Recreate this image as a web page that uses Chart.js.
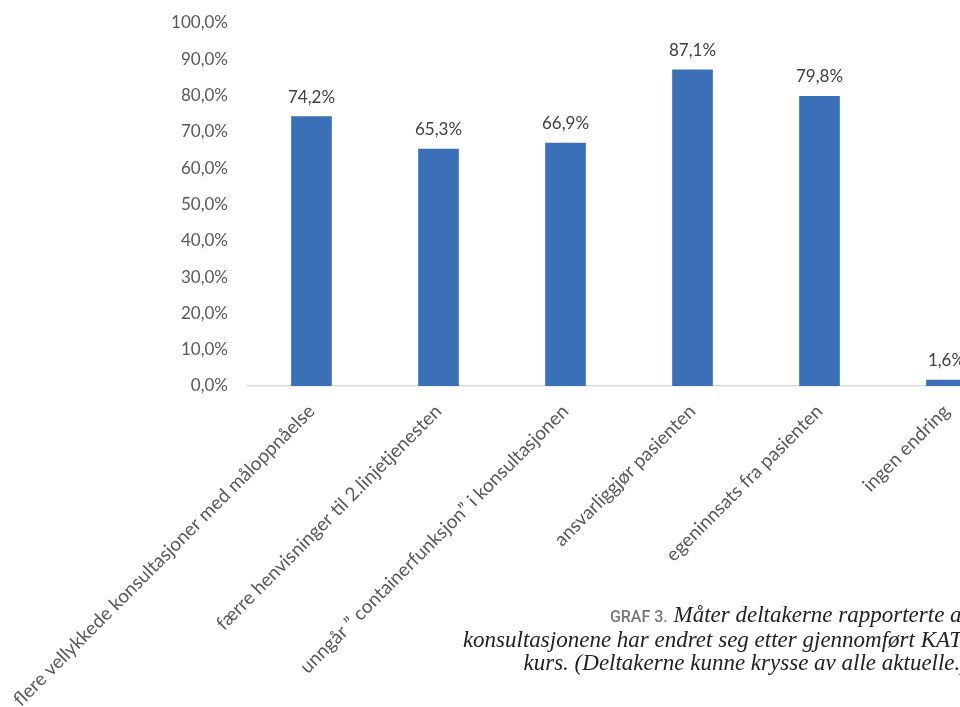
<!DOCTYPE html>
<html>
<head>
<meta charset="utf-8">
<script src="https://cdn.jsdelivr.net/npm/chart.js@4/dist/chart.umd.min.js"></script>
<style>
  html, body { margin: 0; padding: 0; background: #fff; overflow: hidden; }
  #wrap { position: relative; width: 1040px; height: 707px; }
  #caption {
    position: absolute; left: 368px; width: 600px; top: 603px;
    text-align: right; font-family: "Liberation Serif", serif; font-style: italic;
    font-size: 23px; line-height: 23px; color: #222;
  }
  #caption .tag { font-family: Roboto, sans-serif; font-style: normal; font-weight: 500; font-size: 16px; color: #777; }
</style>
</head>
<body>
<div id="wrap">
  <canvas id="chart" width="1040" height="707"></canvas>
  <div id="caption"><span class="tag">GRAF 3.</span> Måter deltakerne rapporterte at<br>konsultasjonene har endret seg etter gjennomført KAT-<br>kurs. (Deltakerne kunne krysse av alle aktuelle.)</div>
</div>
<script>
const categories = [
  'flere vellykkede konsultasjoner med måloppnåelse',
  'færre henvisninger til 2.linjetjenesten',
  'unngår ” containerfunksjon” i konsultasjonen',
  'ansvarliggjør pasienten',
  'egeninnsats fra pasienten',
  'ingen endring'
];
const values = [74.2, 65.3, 66.9, 87.1, 79.8, 1.6];
const yTicks = [0, 10, 20, 30, 40, 50, 60, 70, 80, 90, 100];

const fmt = v => v.toFixed(1).replace('.', ',') + '%';

// data labels above bars
const barLabels = {
  id: 'barLabels',
  afterDatasetsDraw(chart) {
    const ctx = chart.ctx;
    ctx.save();
    ctx.font = '17px Lato';
    ctx.fillStyle = '#404040';
    ctx.textAlign = 'center';
    ctx.textBaseline = 'alphabetic';
    chart.getDatasetMeta(0).data.forEach((bar, i) => {
      ctx.fillText(fmt(values[i]), bar.x, bar.y - 14);
    });
    ctx.restore();
  }
};

// keep the plot area where the layout padding puts it
const noPad = s => { s.paddingLeft = 0; s.paddingRight = 0; s.paddingTop = 0; s.paddingBottom = 0; };

new Chart(document.getElementById('chart'), {
  type: 'bar',
  data: {
    labels: categories,
    datasets: [{ data: values, backgroundColor: '#3b70b9', barThickness: 40 }]
  },
  options: {
    responsive: false,
    animation: false,
    layout: { padding: { top: 23, right: 30, left: 0, bottom: 0 } },
    plugins: { legend: { display: false }, tooltip: { enabled: false } },
    scales: {
      x: {
        grid: { display: false, drawTicks: false },
        border: { color: '#d9d9d9', width: 1.5 },
        ticks: { autoSkip: false, minRotation: 45, maxRotation: 45, padding: 14, color: '#595959', font: { family: 'Lato', size: 19 } },
        afterFit: s => { s.height = 321; noPad(s); }
      },
      y: {
        min: 0, max: 100,
        grid: { display: false, drawTicks: false },
        border: { display: false },
        afterBuildTicks: s => { s.ticks = yTicks.map(v => ({ value: v })); },
        ticks: { padding: 20, color: '#595959', font: { family: 'Lato', size: 17 }, callback: v => fmt(v) },
        afterFit: s => { s.width = 248; noPad(s); }
      }
    }
  },
  plugins: [barLabels]
});
</script>
</body>
</html>
